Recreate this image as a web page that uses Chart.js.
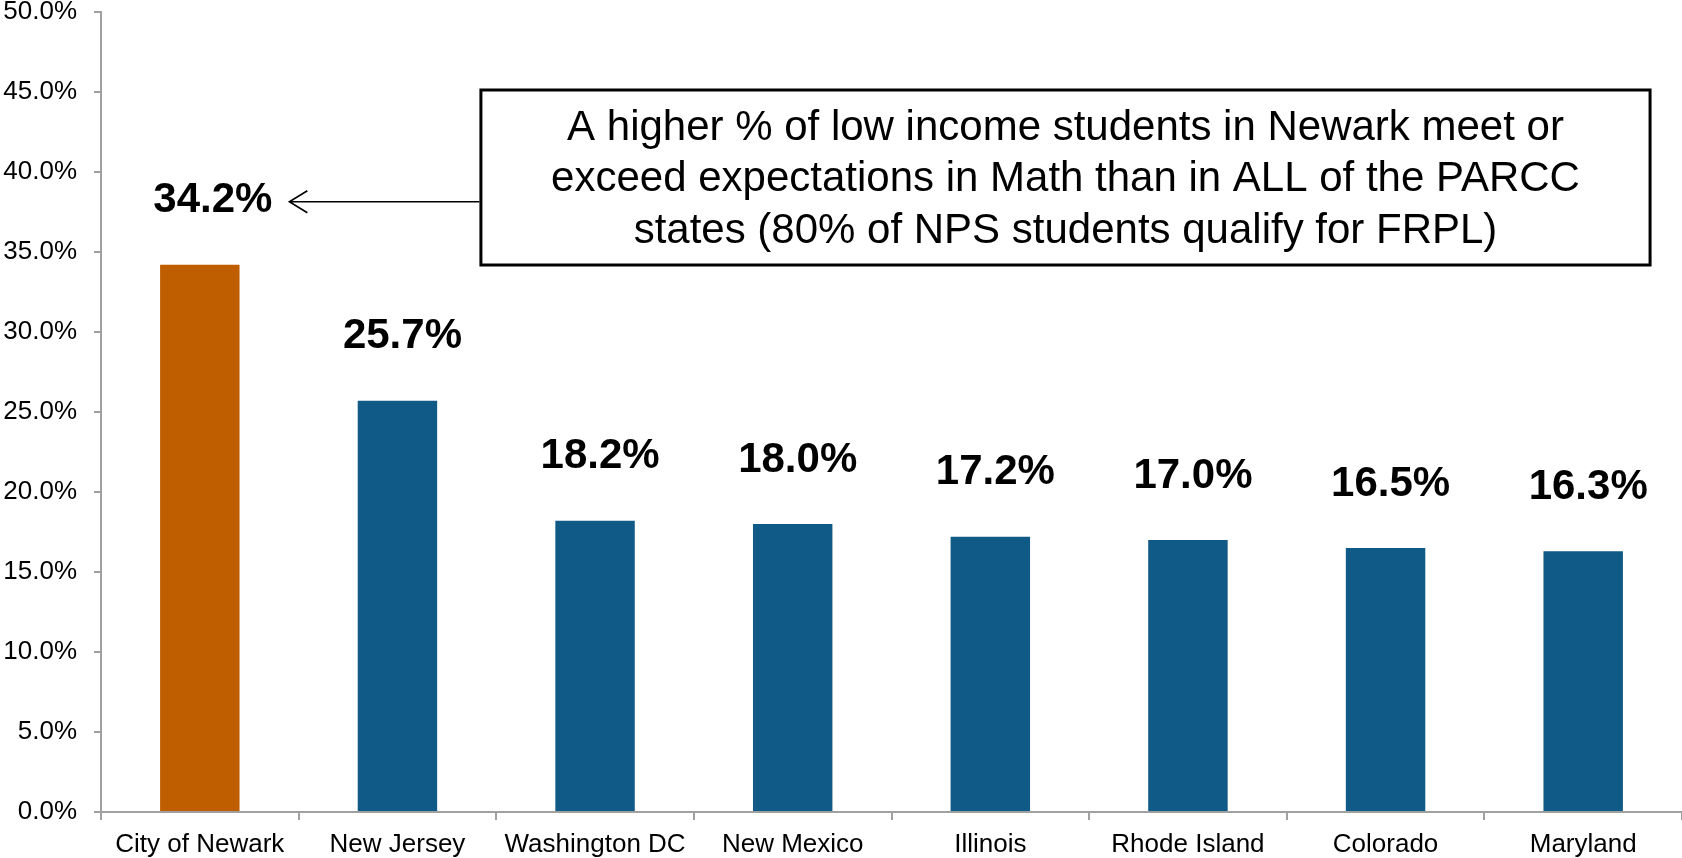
<!DOCTYPE html>
<html>
<head>
<meta charset="utf-8">
<script src="https://cdn.jsdelivr.net/npm/chart.js@4"></script>
<style>
  html, body { margin: 0; padding: 0; background: #fff; }
  #wrap { width: 1682px; height: 858px; position: relative; }
</style>
</head>
<body>
<div id="wrap"><canvas id="c" width="1682" height="858"></canvas></div>
<script>
// ---- data ----
const categories = ["City of Newark", "New Jersey", "Washington DC", "New Mexico", "Illinois", "Rhode Island", "Colorado", "Maryland"];
const values = [34.2, 25.7, 18.2, 18.0, 17.2, 17.0, 16.5, 16.3];
const yTicks = [0, 5, 10, 15, 20, 25, 30, 35, 40, 45, 50];
const calloutLines = [
  "A higher % of low income students in Newark meet or",
  "exceed expectations in Math than in ALL of the PARCC",
  "states (80% of NPS students qualify for FRPL)"
];
const highlightIndex = 0;

// ---- styles ----
const ORANGE = "#BF5E00";
const BLUE = "#0F5A86";
const AXIS = "#A0A0A0";
const FONT = "'Liberation Sans', Arial, sans-serif";

const valueLabels = {
  id: "valueLabels",
  afterDatasetsDraw(chart) {
    const ctx = chart.ctx;
    const meta = chart.getDatasetMeta(0);
    ctx.save();
    ctx.font = "bold 42px " + FONT;
    ctx.fillStyle = "#000";
    ctx.textAlign = "center";
    ctx.textBaseline = "middle";
    meta.data.forEach((bar, i) => {
      const dx = i === highlightIndex ? 13 : 5;
      ctx.fillText(values[i].toFixed(1) + "%", bar.x + dx, bar.y - 64);
    });
    ctx.restore();
  }
};

const callout = {
  id: "callout",
  afterDraw(chart) {
    const ctx = chart.ctx;
    const ca = chart.chartArea;
    const w = ca.right - ca.left;
    const left = ca.left + w * 0.2403;
    const right = ca.left + w * 0.9798;
    const top = ca.top + 78;
    const bottom = ca.top + 253;
    ctx.save();
    ctx.fillStyle = "#fff";
    ctx.fillRect(left, top, right - left, bottom - top);
    ctx.lineWidth = 3;
    ctx.strokeStyle = "#000";
    ctx.strokeRect(left, top, right - left, bottom - top);
    ctx.font = "42px " + FONT;
    ctx.fillStyle = "#000";
    ctx.textAlign = "center";
    ctx.textBaseline = "middle";
    const cx = (left + right) / 2;
    const cy = (top + bottom) / 2 + 2;
    calloutLines.forEach((t, i) => {
      ctx.fillText(t, cx, cy + (i - 1) * 51.5);
    });
    // arrow to the highlighted label
    const meta = chart.getDatasetMeta(0);
    const bar = meta.data[highlightIndex];
    ctx.font = "bold 42px " + FONT;
    const labW = ctx.measureText(values[highlightIndex].toFixed(1) + "%").width;
    const tipX = bar.x + 13 + labW / 2 + 17;
    const tipY = bar.y - 64 + 1;
    ctx.lineWidth = 1.6;
    ctx.beginPath();
    ctx.moveTo(left - 1.5, tipY);
    ctx.lineTo(tipX, tipY);
    ctx.moveTo(tipX + 18, tipY - 11);
    ctx.lineTo(tipX, tipY);
    ctx.lineTo(tipX + 18, tipY + 11);
    ctx.stroke();
    ctx.restore();
  }
};

new Chart(document.getElementById("c"), {
  type: "bar",
  data: {
    labels: categories,
    datasets: [{
      data: values,
      backgroundColor: values.map((v, i) => i === highlightIndex ? ORANGE : BLUE),
      borderWidth: 0,
      barPercentage: 0.402,
      categoryPercentage: 1.0
    }]
  },
  options: {
    responsive: false,
    animation: false,
    devicePixelRatio: 1,
    layout: { padding: { top: 12, right: 0, left: 0, bottom: 0 } },
    plugins: {
      legend: { display: false },
      tooltip: { enabled: false }
    },
    scales: {
      x: {
        offset: true,
        grid: {
          offset: true,
          drawOnChartArea: false,
          drawTicks: true,
          tickLength: 8,
          color: AXIS,
          lineWidth: 2
        },
        border: { color: AXIS, width: 2 },
        ticks: {
          color: "#000",
          font: { family: FONT, size: 26 },
          padding: 9,
          maxRotation: 0,
          autoSkip: false
        },
        afterFit(scale) { scale.height = 46; scale.paddingLeft = 0; scale.paddingRight = 0; }
      },
      y: {
        min: 0,
        max: 50,
        afterBuildTicks(scale) { scale.ticks = yTicks.map(v => ({ value: v })); },
        grid: {
          drawOnChartArea: false,
          drawTicks: true,
          tickLength: 7,
          color: AXIS,
          lineWidth: 2
        },
        border: { color: AXIS, width: 2 },
        ticks: {
          color: "#000",
          font: { family: FONT, size: 26 },
          padding: 17,
          callback: (v) => Number(v).toFixed(1) + "%"
        },
        afterFit(scale) { scale.width = 101; scale.paddingTop = 0; scale.paddingBottom = 0; }
      }
    }
  },
  plugins: [valueLabels, callout]
});
</script>
</body>
</html>
